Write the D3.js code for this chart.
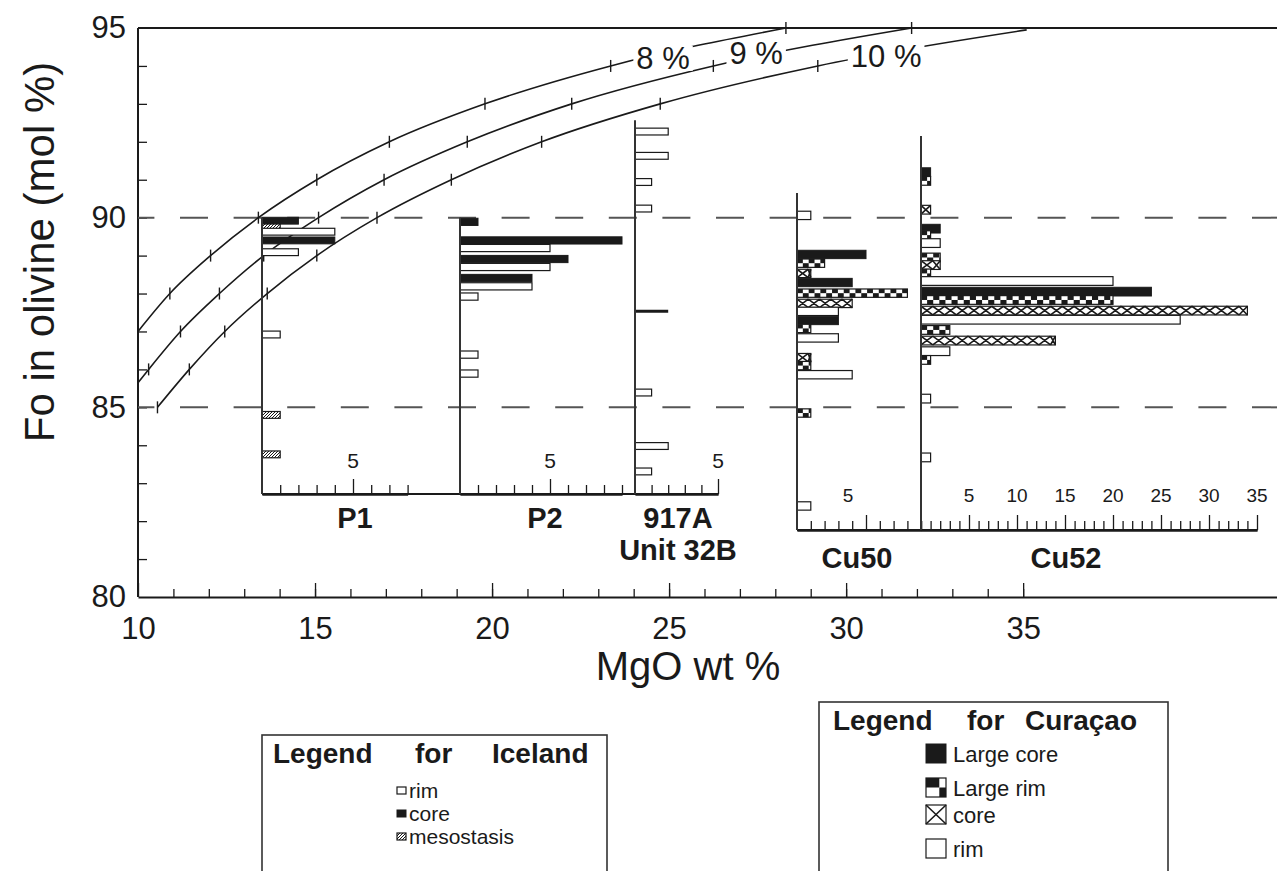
<!DOCTYPE html>
<html>
<head>
<meta charset="utf-8">
<script src="https://cdn.jsdelivr.net/npm/d3@7"></script>
<style>
  html, body { margin: 0; padding: 0; background: #fff; }
  svg { display: block; font-family: "Liberation Sans", Arial, Helvetica, sans-serif; }
</style>
</head>
<body>
<div id="chart"></div>
<script>
// Fo in olivine vs MgO of the melt, with olivine composition histograms

// main axes
const foLabels = [80, 85, 90, 95];
const mgoLabels = [10, 15, 20, 25, 30, 35];
const refLinesFo = [90, 85];

// melt FeO isopleths, points read at the tick marks: [MgO wt %, Fo mol %]
const curve8 = [[10.0, 87.0], [10.9, 88], [12.05, 89], [13.4, 90], [15.05, 91], [17.1, 92], [19.8, 93], [23.35, 94], [28.3, 95]];
const curve9 = [[10.0, 85.65], [10.3, 86], [11.2, 87], [12.3, 88], [13.55, 89], [15.1, 90], [16.95, 91], [19.3, 92], [22.25, 93], [26.25, 94], [31.85, 95]];
const curve10 = [[10.55, 85], [11.45, 86], [12.45, 87], [13.65, 88], [15.05, 89], [16.75, 90], [18.85, 91], [21.4, 92], [24.75, 93], [29.2, 94], [35.1, 94.95]];
const curveNames = ['8 %', '9 %', '10 %'];

// histograms: [Fo mol %, number of grains, type]
const histP1 = [[89.92, 2, 'core'], [89.79, 1, 'meso'], [89.63, 4, 'rim'], [89.40, 4, 'core'], [89.09, 2, 'rim'],
  [86.92, 1, 'rim'], [84.80, 1, 'meso'], [83.76, 1, 'meso']];
const histP2 = [[89.89, 1, 'core'], [89.40, 9, 'core'], [89.20, 5, 'rim'], [88.91, 6, 'core'], [88.70, 5, 'rim'],
  [88.41, 4, 'core'], [88.19, 4, 'rim'], [87.92, 1, 'rim'], [86.39, 1, 'rim'], [85.89, 1, 'rim']];
const hist917A = [[92.27, 2, 'rim'], [91.63, 2, 'rim'], [90.94, 1, 'rim'], [90.24, 1, 'rim'], [87.53, 2, 'thin'],
  [85.39, 1, 'rim'], [83.98, 2, 'rim'], [83.31, 1, 'rim']];
const histCu50 = [[90.06, 1, 'rim'], [89.03, 5, 'lcore'], [88.80, 2, 'lrim'], [88.53, 1, 'core'], [88.29, 4, 'lcore'],
  [88.01, 8, 'lrim'], [87.74, 4, 'core'], [87.53, 3, 'rim'], [87.29, 3, 'lcore'], [87.08, 1, 'lrim'],
  [86.83, 3, 'rim'], [86.31, 1, 'core'], [86.10, 1, 'lrim'], [85.86, 4, 'rim'], [84.85, 1, 'lrim'], [82.40, 1, 'rim']];
const histCu52 = [[91.20, 1, 'lcore'], [90.97, 1, 'lrim'], [90.21, 1, 'core'], [89.71, 2, 'lcore'], [89.54, 1, 'lrim'],
  [89.33, 2, 'rim'], [88.95, 2, 'lrim'], [88.75, 2, 'core'], [88.53, 1, 'lrim'], [88.33, 20, 'rim'],
  [88.05, 24, 'lcore'], [87.83, 20, 'lrim'], [87.55, 34, 'core'], [87.31, 27, 'rim'], [87.04, 3, 'lrim'],
  [86.76, 14, 'core'], [86.48, 3, 'rim'], [86.25, 1, 'lrim'], [85.23, 1, 'rim'], [83.68, 1, 'rim']];

const smallTickLabels = [5];
const cu52TickLabels = [5, 10, 15, 20, 25, 30, 35];

const icelandLegend = [['rim', 'rim'], ['core', 'core'], ['meso', 'mesostasis']];
const curacaoLegend = [['lcore', 'Large core'], ['lrim', 'Large rim'], ['core', 'core'], ['rim', 'rim']];

// ---------------------------------------------------------------

const W = 1277, H = 871;
const INK = '#1a1a1a';

const x = d3.scaleLinear().domain([10, 42.17]).range([138, 1277]);
const y = d3.scaleLinear().domain([80, 95]).range([597, 28]);

const svg = d3.select('#chart').append('svg')
    .attr('width', W)
    .attr('height', H);

svg.append('rect').attr('width', W).attr('height', H).attr('fill', '#fff');

const defs = svg.append('defs');
defs.append('pattern')
    .attr('id', 'meso')
    .attr('patternUnits', 'userSpaceOnUse')
    .attr('width', 3)
    .attr('height', 3)
    .append('path')
    .attr('d', 'M-1,1 L1,-1 M0,3 L3,0 M2,4 L4,2')
    .attr('stroke', INK)
    .attr('stroke-width', 1);

// frame
svg.append('line').attr('x1', x(10)).attr('x2', W).attr('y1', y(95)).attr('y2', y(95))
    .attr('stroke', INK).attr('stroke-width', 2);
svg.append('line').attr('x1', x(10)).attr('x2', x(10)).attr('y1', y(95)).attr('y2', y(80))
    .attr('stroke', INK).attr('stroke-width', 2);

// x axis (inward ticks)
const xMinor = svg.append('g')
    .attr('transform', `translate(0,${y(80)})`)
    .call(d3.axisBottom(x).tickValues(d3.range(11, 36)).tickSizeInner(-8).tickSizeOuter(0).tickFormat(''));
xMinor.select('.domain').attr('stroke', INK).attr('stroke-width', 2);
xMinor.selectAll('.tick line').attr('stroke', INK).attr('stroke-width', 1.3);

const xMajor = svg.append('g')
    .attr('transform', `translate(0,${y(80)})`)
    .call(d3.axisBottom(x).tickValues(mgoLabels).tickSizeInner(-14).tickSizeOuter(0).tickPadding(20));
xMajor.select('.domain').remove();
xMajor.selectAll('.tick line').attr('stroke', INK).attr('stroke-width', 1.3);
xMajor.selectAll('.tick text')
    .attr('font-family', '"Liberation Sans", Arial, sans-serif')
    .attr('font-size', 31)
    .attr('fill', INK);

// y axis
const yMinor = svg.append('g')
    .attr('transform', `translate(${x(10)},0)`)
    .call(d3.axisRight(y).tickValues(d3.range(81, 95)).tickSizeInner(9).tickSizeOuter(0).tickFormat(''));
yMinor.select('.domain').remove();
yMinor.selectAll('.tick line').attr('stroke', INK).attr('stroke-width', 1.3);

const yLab = svg.append('g')
    .attr('transform', `translate(${x(10)},0)`)
    .call(d3.axisLeft(y).tickValues(foLabels).tickSize(0).tickPadding(12));
yLab.select('.domain').remove();
yLab.selectAll('.tick text')
    .attr('font-family', '"Liberation Sans", Arial, sans-serif')
    .attr('font-size', 31)
    .attr('fill', INK);

// axis titles
svg.append('text')
    .attr('x', 688)
    .attr('y', 680)
    .attr('text-anchor', 'middle')
    .attr('font-size', 40)
    .attr('fill', INK)
    .text('MgO wt %');

svg.append('text')
    .attr('transform', 'translate(54,252) rotate(-90)')
    .attr('text-anchor', 'middle')
    .attr('font-size', 42)
    .attr('fill', INK)
    .text('Fo in olivine (mol %)');

// dashed reference lines
svg.selectAll('.ref')
    .data(refLinesFo)
    .enter()
    .append('line')
    .attr('class', 'ref')
    .attr('x1', x(10))
    .attr('x2', W)
    .attr('y1', d => y(d))
    .attr('y2', d => y(d))
    .attr('stroke', '#555')
    .attr('stroke-width', 2)
    .attr('stroke-dasharray', '28,25.6')
    .attr('stroke-dashoffset', 11.6);

// isopleths
const line = d3.line()
    .x(d => x(d[0]))
    .y(d => y(d[1]))
    .curve(d3.curveMonotoneX);

const curves = [curve8, curve9, curve10];
const curveLabelAt = [[24.83, 94.2], [27.46, 94.33], [31.13, 94.24]];

curves.forEach((pts, i) => {
    svg.append('path')
        .attr('d', line(pts))
        .attr('fill', 'none')
        .attr('stroke', INK)
        .attr('stroke-width', 1.6);

    svg.selectAll(null)
        .data(pts.filter(p => Number.isInteger(p[1])))
        .enter()
        .append('line')
        .attr('x1', d => x(d[0]))
        .attr('x2', d => x(d[0]))
        .attr('y1', d => y(d[1]) - 6)
        .attr('y2', d => y(d[1]) + 6)
        .attr('stroke', INK)
        .attr('stroke-width', 1.4);
});

curveNames.forEach((name, i) => {
    const g = svg.append('g');
    const t = g.append('text')
        .attr('x', x(curveLabelAt[i][0]))
        .attr('y', y(curveLabelAt[i][1]))
        .attr('text-anchor', 'middle')
        .attr('dominant-baseline', 'central')
        .attr('font-size', 31)
        .attr('fill', INK)
        .text(name);
    const b = t.node().getBBox();
    g.insert('rect', 'text')
        .attr('x', b.x - 3)
        .attr('y', b.y + 5)
        .attr('width', b.width + 6)
        .attr('height', b.height - 10)
        .attr('fill', '#fff');
});

// ---------------------------------------------------------------
// histogram insets (placed in pixel space, sharing the Fo scale)

const insets = [
    { name: ['P1'], bars: histP1, axisX: 262, perCount: 18.2, nTicks: 8, topFo: 90.0, baseY: 494, band: 0.18, labels: smallTickLabels, labelDx: 0, nameX: 355, nameY: 528 },
    { name: ['P2'], bars: histP2, axisX: 460, perCount: 18.0, nTicks: 9, topFo: 90.0, baseY: 494, band: 0.19, labels: smallTickLabels, labelDx: 0, nameX: 545, nameY: 528 },
    { name: ['917A', 'Unit 32B'], bars: hist917A, axisX: 635, perCount: 16.6, nTicks: 5, topFo: 92.57, baseY: 494, band: 0.18, labels: smallTickLabels, labelDx: 0, nameX: 678, nameY: 528 },
    { name: ['Cu50'], bars: histCu50, axisX: 797, perCount: 13.8, nTicks: 9, topFo: 90.65, baseY: 530, band: 0.22, labels: smallTickLabels, labelDx: -18, nameX: 857, nameY: 568, cu: true },
    { name: ['Cu52'], bars: histCu52, axisX: 921, perCount: 9.6, nTicks: 35, topFo: 92.15, baseY: 530, band: 0.23, labels: cu52TickLabels, labelDx: 0, nameX: 1066, nameY: 568, cu: true }
];

// connecting baselines between neighbouring insets
[[0, 2], [3, 4]].forEach(([a, b]) => {
    const first = insets[a], last = insets[b];
    svg.append('line')
        .attr('x1', first.axisX)
        .attr('x2', last.axisX + last.nTicks * last.perCount)
        .attr('y1', first.baseY)
        .attr('y2', first.baseY)
        .attr('stroke', INK)
        .attr('stroke-width', 1.8);
});

function drawBar(g, cx, d, band, cu) {
    const [fo, n, type] = d;
    const x0 = cx(0), x1 = cx(n);

    if (type === 'thin') {
        g.append('line').attr('x1', x0).attr('x2', x1).attr('y1', y(fo)).attr('y2', y(fo))
            .attr('stroke', INK).attr('stroke-width', 3);
        return;
    }

    const yt = y(fo + band / 2);
    const h = y(fo - band / 2) - yt;

    if (type === 'core' && !cu || type === 'lcore') {
        g.append('rect').attr('x', x0).attr('y', yt).attr('width', x1 - x0).attr('height', h)
            .attr('fill', INK).attr('stroke', INK).attr('stroke-width', 1);
        return;
    }

    g.append('rect').attr('x', x0).attr('y', yt).attr('width', x1 - x0).attr('height', h)
        .attr('fill', type === 'meso' ? 'url(#meso)' : '#fff')
        .attr('stroke', INK).attr('stroke-width', 1.2);

    if (type === 'lrim') {
        const c = h * 0.7;
        for (let k = 0; x0 + k * c < x1 - 0.5; k++) {
            g.append('rect')
                .attr('x', x0 + k * c)
                .attr('y', k % 2 ? yt + h / 2 : yt)
                .attr('width', Math.min(c, x1 - x0 - k * c))
                .attr('height', h / 2)
                .attr('fill', INK);
        }
    }
    if (type === 'core' && cu) {
        const step = h * 1.35;
        let p = '';
        for (let xx = x0; xx < x1 - 0.5; xx += step) {
            const xe = Math.min(xx + step, x1);
            p += `M${xx},${yt}L${xe},${yt + h}M${xx},${yt + h}L${xe},${yt}`;
        }
        g.append('path').attr('d', p).attr('fill', 'none').attr('stroke', INK).attr('stroke-width', 1.6);
    }
}

insets.forEach(s => {
    const g = svg.append('g').attr('class', 'inset');
    const cx = d3.scaleLinear().domain([0, s.nTicks]).range([s.axisX, s.axisX + s.nTicks * s.perCount]);

    s.bars.forEach(d => drawBar(g, cx, d, s.band, s.cu));

    // count axis
    const minor = d3.range(1, s.nTicks + 1).filter(v => v % 5 !== 0);
    const major = d3.range(5, s.nTicks + 1, 5);
    const a1 = g.append('g').attr('transform', `translate(0,${s.baseY})`)
        .call(d3.axisBottom(cx).tickValues(minor).tickSizeInner(-9).tickSizeOuter(0).tickFormat(''));
    const a2 = g.append('g').attr('transform', `translate(0,${s.baseY})`)
        .call(d3.axisBottom(cx).tickValues(major).tickSizeInner(-15).tickSizeOuter(0).tickFormat(''));
    [a1, a2].forEach(a => {
        a.select('.domain').attr('stroke', INK).attr('stroke-width', 1.8);
        a.selectAll('.tick line').attr('stroke', INK).attr('stroke-width', 1.3);
    });

    g.selectAll('.cnt')
        .data(s.labels)
        .enter()
        .append('text')
        .attr('x', d => cx(d) + s.labelDx)
        .attr('y', s.baseY - (s.cu ? 28 : 26))
        .attr('text-anchor', 'middle')
        .attr('font-size', s.cu ? 19 : 21)
        .attr('fill', INK)
        .text(d => d);

    // vertical Fo axis of the inset
    g.append('line')
        .attr('x1', s.axisX).attr('x2', s.axisX)
        .attr('y1', y(s.topFo)).attr('y2', s.baseY)
        .attr('stroke', '#333').attr('stroke-width', 2);

    s.name.forEach((t, i) => {
        g.append('text')
            .attr('x', s.nameX)
            .attr('y', s.nameY + i * 32)
            .attr('text-anchor', 'middle')
            .attr('font-size', 29)
            .attr('font-weight', 'bold')
            .attr('fill', INK)
            .text(t);
    });
});

// ---------------------------------------------------------------
// legends

function swatch(g, type, sx, sy, w, h, cu) {
    const cx = d3.scaleLinear().domain([0, 1]).range([sx, sx + w]);
    const fo = y.invert(sy + h / 2);
    const band = y.invert(sy) - y.invert(sy + h);
    drawBar(g, cx, [fo, 1, type], band, cu);
}

const iceBox = svg.append('g');
iceBox.append('rect').attr('x', 262).attr('y', 735).attr('width', 345).attr('height', 160)
    .attr('fill', 'none').attr('stroke', '#333').attr('stroke-width', 1.6);
[['Legend', 273], ['for', 415], ['Iceland', 492]].forEach(([t, tx]) => {
    iceBox.append('text').attr('x', tx).attr('y', 763)
        .attr('font-size', 28).attr('font-weight', 'bold').attr('fill', INK).text(t);
});
icelandLegend.forEach(([type, label], i) => {
    const ly = 798 + i * 23;
    swatch(iceBox, type, 397, ly - 11, 9, 7, false);
    iceBox.append('text').attr('x', 409).attr('y', ly)
        .attr('font-size', 21).attr('fill', INK).text(label);
});

const cuBox = svg.append('g');
cuBox.append('rect').attr('x', 819).attr('y', 702).attr('width', 349).attr('height', 190)
    .attr('fill', 'none').attr('stroke', '#333').attr('stroke-width', 1.6);
[['Legend', 833], ['for', 967], ['Curaçao', 1025]].forEach(([t, tx]) => {
    cuBox.append('text').attr('x', tx).attr('y', 730)
        .attr('font-size', 28).attr('font-weight', 'bold').attr('fill', INK).text(t);
});
const cuRows = [762, 796, 823, 857];
curacaoLegend.forEach(([type, label], i) => {
    const ly = cuRows[i];
    swatch(cuBox, type, 926, ly - 18, 20, 19, true);
    cuBox.append('text').attr('x', 953).attr('y', ly)
        .attr('font-size', 22).attr('fill', INK).text(label);
});
</script>
</body>
</html>
